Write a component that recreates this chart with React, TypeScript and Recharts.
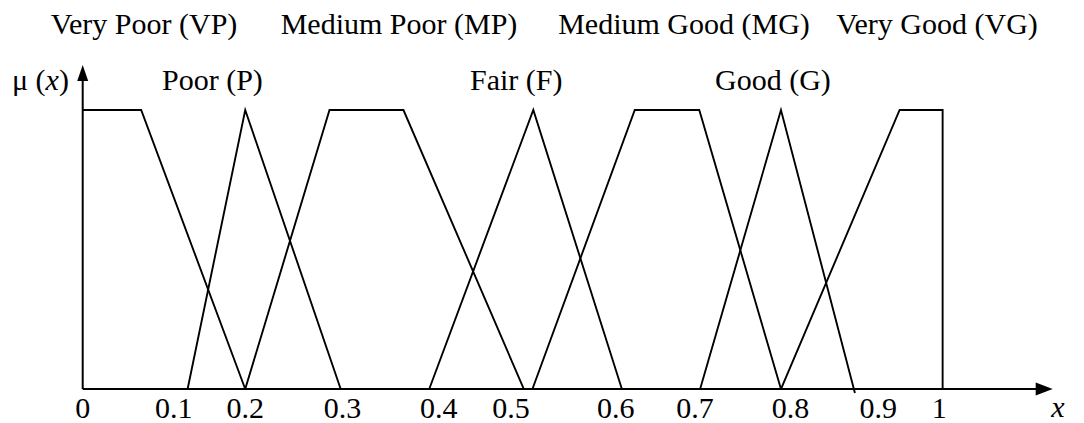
import { Customized, Line, LineChart, ReferenceDot, ReferenceLine, XAxis, YAxis } from 'recharts';

type Pt = { x: number; mu: number };

// membership functions, x (0 = y axis, 1 = the VG edge)
const VERY_POOR: Pt[] = [
  { x: 0, mu: 1 },
  { x: 0.068, mu: 1 },
  { x: 0.189, mu: 0 },
];
const POOR: Pt[] = [
  { x: 0.122, mu: 0 },
  { x: 0.189, mu: 1 },
  { x: 0.3, mu: 0 },
];
const MEDIUM_POOR: Pt[] = [
  { x: 0.189, mu: 0 },
  { x: 0.287, mu: 1 },
  { x: 0.373, mu: 1 },
  { x: 0.513, mu: 0 },
];
const FAIR: Pt[] = [
  { x: 0.403, mu: 0 },
  { x: 0.524, mu: 1 },
  { x: 0.627, mu: 0 },
];
const MEDIUM_GOOD: Pt[] = [
  { x: 0.523, mu: 0 },
  { x: 0.642, mu: 1 },
  { x: 0.717, mu: 1 },
  { x: 0.812, mu: 0 },
];
const GOOD: Pt[] = [
  { x: 0.718, mu: 0 },
  { x: 0.812, mu: 1 },
  { x: 0.898, mu: -0.014 },
];
const VERY_GOOD: Pt[] = [
  { x: 0.812, mu: 0 },
  { x: 0.95, mu: 1 },
  { x: 1, mu: 1 },
  { x: 1, mu: 0 },
];

const SERIES = [VERY_POOR, POOR, MEDIUM_POOR, FAIR, MEDIUM_GOOD, GOOD, VERY_GOOD];

// tick labels sit where the drawing puts them, not on an even grid
const TICK_VALUES = [0, 0.106, 0.189, 0.302, 0.414, 0.498, 0.62, 0.712, 0.823, 0.925, 0.996];
const TICK_LABELS = ['0', '0.1', '0.2', '0.3', '0.4', '0.5', '0.6', '0.7', '0.8', '0.9', '1'];

const TOP_LABELS = ['Very Poor (VP)', 'Medium Poor (MP)', 'Medium Good (MG)', 'Very Good (VG)'];
const MID_LABELS = ['Poor (P)', 'Fair (F)', 'Good (G)'];

const X_END = 1.128; // arrow tip of the x axis
const Y_END = 1.161; // arrow tip of the mu axis

const SERIF = 'Liberation Serif';
const FONT_SIZE = 30;
const TOP_CX = [144, 399, 684, 937];
const MID_X = [162, 470, 715];

function UpArrow(props: any) {
  const { cx, cy } = props;
  return <path d={`M${cx},${cy} L${cx - 5.5},${cy + 16} L${cx + 5.5},${cy + 16} Z`} fill="#000" />;
}

function RightArrow(props: any) {
  const { cx, cy } = props;
  return <path d={`M${cx},${cy} L${cx - 17},${cy - 6.5} L${cx - 17},${cy + 6.5} Z`} fill="#000" />;
}

function Tick(props: any) {
  const { x, y, index } = props;
  return (
    <text x={x} y={y + 23} textAnchor="middle" fontFamily={SERIF} fontSize={FONT_SIZE} fill="#000">
      {TICK_LABELS[index]}
    </text>
  );
}

function Label({ x, y, children, anchor }: any) {
  return (
    <text x={x} y={y} textAnchor={anchor || 'start'} fontFamily={SERIF} fontSize={FONT_SIZE} fill="#000">
      {children}
    </text>
  );
}

function Annotations() {
  return (
    <g>
      {TOP_LABELS.map((t, i) => (
        <Label key={t} x={TOP_CX[i]} y={34} anchor="middle">
          {t}
        </Label>
      ))}
      {MID_LABELS.map((t, i) => (
        <Label key={t} x={MID_X[i]} y={90}>
          {t}
        </Label>
      ))}
      <Label x={12} y={90}>
        μ (<tspan fontStyle="italic">x</tspan>)
      </Label>
      <Label x={1058} y={417} anchor="middle">
        <tspan fontStyle="italic">x</tspan>
      </Label>
    </g>
  );
}

export default function App() {
  return (
    <div style={{ position: 'fixed', left: 0, top: 0, width: 1084, height: 423, background: '#fff' }}>
      <LineChart width={1084} height={423} margin={{ top: 54.2, right: 31.3, bottom: 0, left: 82.7 }}>
        <XAxis
          type="number"
          dataKey="x"
          domain={[0, X_END]}
          allowDataOverflow
          ticks={TICK_VALUES}
          interval={0}
          axisLine={false}
          tickLine={false}
          tickSize={0}
          tickMargin={0}
          height={28.4}
          tick={<Tick />}
        />
        <YAxis type="number" dataKey="mu" domain={[-0.02, 1.2]} allowDataOverflow hide />
        <ReferenceLine
          segment={[{ x: 0, y: 0 }, { x: 0, y: Y_END - 0.03 }]}
          stroke="#000"
          strokeWidth={2}
          ifOverflow="visible"
        />
        <ReferenceLine
          segment={[{ x: 0, y: 0 }, { x: X_END - 0.01, y: 0 }]}
          stroke="#000"
          strokeWidth={2}
          ifOverflow="visible"
        />
        {SERIES.map((pts, i) => (
          <Line
            key={i}
            data={pts}
            dataKey="mu"
            type="linear"
            stroke="#000"
            strokeWidth={1.9}
            dot={false}
            activeDot={false}
            isAnimationActive={false}
          />
        ))}
        <ReferenceDot x={0} y={Y_END} ifOverflow="visible" shape={UpArrow} />
        <ReferenceDot x={X_END} y={0} ifOverflow="visible" shape={RightArrow} />
        <Customized component={Annotations} />
      </LineChart>
    </div>
  );
}
